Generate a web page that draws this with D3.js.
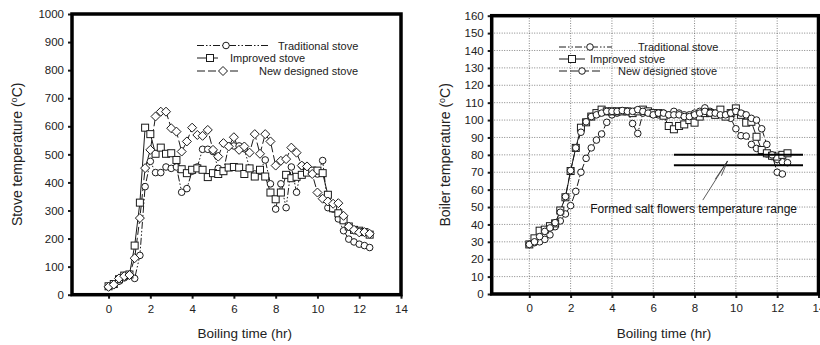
<!DOCTYPE html>
<html>
<head>
<meta charset="utf-8">
<script src="https://cdn.jsdelivr.net/npm/d3@7"></script>
<style>
  body { margin: 0; background: #fff; }
  svg { display: block; font-family: "Liberation Sans", Arial, sans-serif; }
</style>
</head>
<body>
<div id="chart"></div>
<script>
// boiling time (hr), one reading every 15 min
const time = d3.range(0, 12.51, 0.25);

// left panel: stove temperature (°C)
const stoveTraditional = [28, 35, 48, 60, 68, 58, 140, 385, 475, 435, 435, 455, 450, 455, 365, 378,
  440, 455, 518, 518, 510, 450, 440, 530, 530, 530, 520, 450, 430, 440, 480, 395, 305, 395, 310, 455,
  365, 460, 445, 440, 430, 478, 310, 305, 270, 228, 198, 188, 180, 175, 168];
const stoveImproved = [30, 38, 55, 68, 72, 175, 328, 595, 572, 502, 524, 502, 504, 480, 447, 433,
  445, 450, 445, 419, 433, 430, 440, 453, 455, 453, 430, 450, 421, 445, 421, 364, 340, 364, 427, 415,
  420, 427, 435, 442, 442, 433, 356, 308, 290, 265, 243, 231, 228, 223, 214];
const stoveNew = [28, 36, 58, 66, 70, 130, 273, 451, 516, 635, 652, 652, 593, 581, 510, 546,
  595, 569, 566, 587, 516, 492, 540, 528, 561, 516, 528, 506, 572, 502, 572, 546, 460, 477, 483, 524,
  506, 460, 457, 430, 364, 342, 332, 324, 326, 281, 243, 231, 222, 223, 217];

// right panel: boiler temperature (°C)
const boilerTraditional = [28.5, 29.5, 30, 31.4, 34, 38.7, 42, 46, 50.8, 59, 70, 78, 84, 88.5, 92, 98.7,
  103, 104, 105, 105, 98, 92.3, 104, 105, 104, 103, 104, 103, 105, 104, 103, 103, 104, 105, 107, 105,
  104, 104, 103, 101, 95, 91, 90.8, 86, 83.7, 82, 80.5, 79, 77.4, 76, 75.5];
const boilerImproved = [28.5, 32, 36.4, 37, 39, 40.6, 48, 55.6, 70.7, 84, 95.6, 98.7, 102, 104, 106, 105,
  105, 105, 105, 105, 104, 105, 106, 105, 104, 104, 102.5, 96.6, 94.7, 96.6, 97.5, 100, 98.5, 102, 104, 104,
  103, 106, 102, 104, 106.7, 103, 98.5, 99, 90.4, 82.8, 80.9, 79.5, 79, 80, 80.9];
const boilerNew = [28.5, 30, 33, 36, 38, 41, 47, 56, 71, 84, 93, 99, 102, 103, 104, 105,
  105, 105, 105.5, 105, 105, 106, 105, 104, 103, 104, 104, 103, 103, 103, 102, 102, 103, 104, 105, 104,
  104, 103, 103, 104, 105, 104, 103, 101, 100, 95, 86, 80, 70, 69];

const xTicks = [0, 2, 4, 6, 8, 10, 12, 14];
const stoveTicks = d3.range(0, 1001, 100);
const boilerTicks = d3.range(0, 161, 10);
const seriesNames = ["Traditional stove", "Improved stove", "New designed stove"];

// salt flowers band (°C) and its x extent (hr)
const saltBand = [80, 74];
const saltSpan = [7, 13.25];
const saltLabel = "Formed salt flowers temperature range";

const W = 820, H = 345;
const ink = "#1a1a1a";

const svg = d3.select("#chart").append("svg")
  .attr("width", W).attr("height", H);

function dashFor(i) {
  return i === 0 ? "7,2,1.5,2,1.5,2" : i === 1 ? null : "8,3";
}

function drawMarker(g, kind, x, y) {
  if (kind === "circle") {
    g.append("circle").attr("cx", x).attr("cy", y).attr("r", 3.3)
      .attr("fill", "#fff").attr("stroke", ink).attr("stroke-width", 1);
  } else if (kind === "square") {
    g.append("rect").attr("x", x - 3.5).attr("y", y - 3.5).attr("width", 7).attr("height", 7)
      .attr("fill", "#fff").attr("stroke", ink).attr("stroke-width", 1);
  } else {
    g.append("path").attr("d", `M${x},${y - 4.5}L${x + 4.5},${y}L${x},${y + 4.5}L${x - 4.5},${y}Z`)
      .attr("fill", "#fff").attr("stroke", ink).attr("stroke-width", 1);
  }
}

function panel(opt) {
  const x = d3.scaleLinear().domain(opt.xDomain).range([opt.left, opt.right]);
  const y = d3.scaleLinear().domain(opt.yDomain).range([opt.bottom, opt.top]);
  const g = svg.append("g");

  if (opt.grid) {
    const grid = g.append("g").attr("stroke", "#666").attr("stroke-width", 0.8)
      .attr("stroke-dasharray", "1,1.5");
    grid.selectAll("line.v").data(xTicks.filter(d => d < 14))
      .join("line").attr("class", "v")
      .attr("x1", d => x(d)).attr("x2", d => x(d))
      .attr("y1", opt.bottom).attr("y2", opt.top);
    grid.selectAll("line.h").data(opt.yTicks.filter(d => d > 0 && d < opt.yDomain[1]))
      .join("line").attr("class", "h")
      .attr("x1", opt.left).attr("x2", opt.right)
      .attr("y1", d => y(d)).attr("y2", d => y(d));
  }

  // series lines and markers
  opt.series.forEach((vals, i) => {
    const pts = vals.map((v, k) => [time[k], v]);
    g.append("path").datum(pts)
      .attr("fill", "none").attr("stroke", ink).attr("stroke-width", 1)
      .attr("stroke-dasharray", dashFor(i))
      .attr("d", d3.line().x(d => x(d[0])).y(d => y(d[1])));
  });
  opt.series.forEach((vals, i) => {
    const mg = g.append("g");
    vals.forEach((v, k) => drawMarker(mg, opt.markers[i], x(time[k]), y(v)));
  });

  // axes
  const ax = g.append("g").attr("transform", `translate(0,${opt.bottom})`)
    .call(d3.axisBottom(x).tickValues(xTicks).tickFormat(d3.format("d")).tickSize(4).tickPadding(6));
  const ay = g.append("g").attr("transform", `translate(${opt.left},0)`)
    .call(d3.axisLeft(y).tickValues(opt.yTicks).tickFormat(d3.format("d")).tickSize(4).tickPadding(4));
  [ax, ay].forEach(a => {
    a.select(".domain").remove();
    a.selectAll(".tick line").attr("stroke", ink).attr("stroke-width", 2);
    a.selectAll(".tick text").attr("fill", "#222").style("font-size", "11.5px")
      .style("font-family", "'Liberation Sans', Arial, sans-serif");
  });

  // frame
  g.append("rect")
    .attr("x", opt.left).attr("y", opt.top)
    .attr("width", opt.right - opt.left).attr("height", opt.bottom - opt.top)
    .attr("fill", "none").attr("stroke", "#000").attr("stroke-width", 3.5);

  // titles
  g.append("text").attr("x", (x(0) + x(14)) / 2 - 10).attr("y", 338)
    .attr("text-anchor", "middle").attr("fill", "#222").style("font-size", "13.5px")
    .text("Boiling time (hr)");
  const yt = g.append("text")
    .attr("transform", `translate(${opt.yTitleX},${(opt.top + opt.bottom) / 2}) rotate(-90)`)
    .attr("text-anchor", "middle").attr("fill", "#222").style("font-size", "14px");
  yt.append("tspan").text(opt.yTitle + " (");
  yt.append("tspan").attr("dy", -5).style("font-size", "9px").text("o");
  yt.append("tspan").attr("dy", 5).text("C)");

  // legend
  const lg = g.append("g");
  opt.legend.forEach((L, i) => {
    lg.append("line").attr("x1", L.x1).attr("x2", L.x2).attr("y1", L.y).attr("y2", L.y)
      .attr("stroke", ink).attr("stroke-width", 1).attr("stroke-dasharray", dashFor(i));
    drawMarker(lg, opt.markers[i], L.mx, L.y);
    lg.append("text").attr("x", L.tx).attr("y", L.y + 4).attr("fill", "#222")
      .style("font-size", "11px").text(seriesNames[i]);
  });

  return { x, y, g };
}

panel({
  left: 72, right: 401, top: 14, bottom: 294.7,
  xDomain: [-1.75, 14], yDomain: [0, 1000], yTicks: stoveTicks,
  series: [stoveTraditional, stoveImproved, stoveNew],
  markers: ["circle", "square", "diamond"],
  yTitle: "Stove temperature", yTitleX: 22,
  legend: [
    { x1: 197, x2: 270, mx: 226, tx: 278, y: 45.5 },
    { x1: 197, x2: 218, mx: 210, tx: 230, y: 58 },
    { x1: 197, x2: 241, mx: 223, tx: 259, y: 71 }
  ]
});

const right = panel({
  left: 491.7, right: 818.5, top: 15.7, bottom: 294,
  xDomain: [-1.82, 14], yDomain: [0, 160], yTicks: boilerTicks, grid: true,
  series: [boilerTraditional, boilerImproved, boilerNew],
  markers: ["circle", "square", "circle"],
  yTitle: "Boiler temperature", yTitleX: 450,
  legend: [
    { x1: 559, x2: 612, mx: 590, tx: 638, y: 47 },
    { x1: 559, x2: 585, mx: 572, tx: 590, y: 59 },
    { x1: 559, x2: 602, mx: 582, tx: 618, y: 71 }
  ]
});

// salt flower band and its note
const rx = right.x, ry = right.y, rg = right.g;
rg.selectAll("line.salt").data(saltBand).join("line").attr("class", "salt")
  .attr("x1", rx(saltSpan[0])).attr("x2", rx(saltSpan[1]))
  .attr("y1", d => ry(d)).attr("y2", d => ry(d))
  .attr("stroke", "#000").attr("stroke-width", 2);
rg.append("line")
  .attr("x1", rx(8.4)).attr("y1", ry(54)).attr("x2", rx(9.6)).attr("y2", ry(76.5))
  .attr("stroke", "#333").attr("stroke-width", 0.8);
rg.append("line")
  .attr("x1", rx(9.0)).attr("y1", ry(66)).attr("x2", rx(9.6)).attr("y2", ry(76.5))
  .attr("stroke", "#333").attr("stroke-width", 0.8);
rg.append("line")
  .attr("x1", rx(9.3)).attr("y1", ry(68)).attr("x2", rx(9.6)).attr("y2", ry(76.5))
  .attr("stroke", "#333").attr("stroke-width", 0.8);
rg.append("text").attr("x", rx(2.95)).attr("y", ry(48.7) + 4)
  .attr("fill", "#111").style("font-size", "12px").text(saltLabel);
</script>
</body>
</html>
